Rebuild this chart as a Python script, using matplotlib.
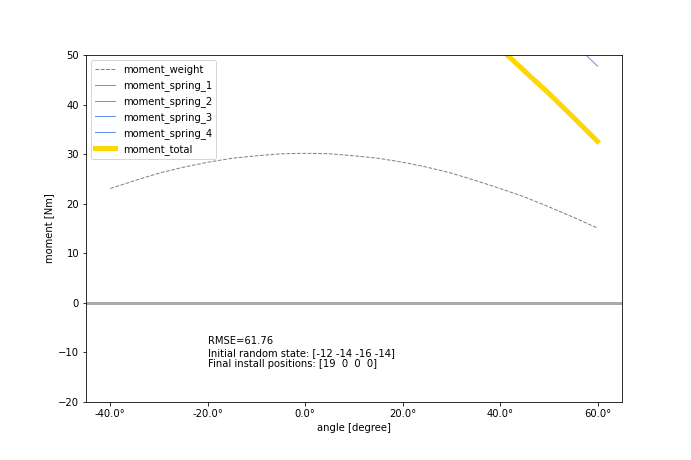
import matplotlib
matplotlib.use("Agg")
import matplotlib.pyplot as plt
from matplotlib.ticker import FuncFormatter

# angles in degrees
angle = [-40, -35, -30, -25, -20, -15, -10, -5, 0, 5, 10,
         15, 20, 25, 30, 35, 40, 45, 50, 55, 60]

moment_weight = [23.1, 24.7, 26.2, 27.4, 28.4, 29.2, 29.7, 30.1, 30.2, 30.1, 29.7,
                 29.2, 28.4, 27.4, 26.2, 24.7, 23.1, 21.4, 19.4, 17.3, 15.1]

# springs are mostly outside the visible range, only the tail of spring_1 shows
moment_spring_1 = [140, 136, 131, 126, 121, 115, 109, 103, 97, 92, 87,
                   82, 78, 74, 70, 66, 62.5, 59.2, 56.0, 52.5, 47.8]
moment_spring_2 = [160, 158, 156, 154, 152, 150, 148, 146, 144, 142, 140,
                   138, 136, 134, 132, 130, 128, 126, 124, 122, 120]
moment_spring_3 = [170, 168, 166, 164, 162, 160, 158, 156, 154, 152, 150,
                   148, 146, 144, 142, 140, 138, 136, 134, 132, 130]
moment_spring_4 = [160, 158, 156, 154, 152, 150, 148, 146, 144, 142, 140,
                   138, 136, 134, 132, 130, 128, 126, 124, 122, 120]

moment_total = [120, 114, 108, 102, 96, 91, 86, 81, 76.5, 72.5, 68.8,
                65.2, 61.8, 58.6, 55.4, 54.0, 51.4, 46.8, 42.3, 37.5, 32.6]

rmse = 61.76
init_state = "[-12 -14 -16 -14]"
final_pos = "[19  0  0  0]"

# figure was made at 72 dpi
fig = plt.figure(figsize=(691 / 72, 460 / 72), dpi=72)
ax = fig.add_axes([0.1245, 0.126, 0.7755, 0.754])

ax.axhline(0, color="#aaaaaa", lw=3)
ax.plot(angle, moment_weight, "--", color="gray", lw=1, label="moment_weight")
ax.plot(angle, moment_spring_1, color="cornflowerblue", lw=1, label="moment_spring_1")
ax.plot(angle, moment_spring_2, color="cornflowerblue", lw=1, label="moment_spring_2")
ax.plot(angle, moment_spring_3, color="cornflowerblue", lw=1, label="moment_spring_3")
ax.plot(angle, moment_spring_4, color="cornflowerblue", lw=1, label="moment_spring_4")
ax.plot(angle, moment_total, color="gold", lw=5, label="moment_total")

ax.text(-20, -7.7, f"RMSE={rmse:.2f}", va="center")
ax.text(-20, -10.2, f"Initial random state: {init_state}", va="center")
ax.text(-20, -12.3, f"Final install positions: {final_pos}", va="center")

ax.set_xlim(-45, 65)
ax.set_ylim(-20, 50)
ax.set_xticks([-40, -20, 0, 20, 40, 60])
ax.xaxis.set_major_formatter(FuncFormatter(lambda x, p: f"{x:.1f}°"))
ax.set_xlabel("angle [degree]")
ax.set_ylabel("moment [Nm]")
ax.legend(loc="upper left")

fig.savefig("out.png", dpi=72)
